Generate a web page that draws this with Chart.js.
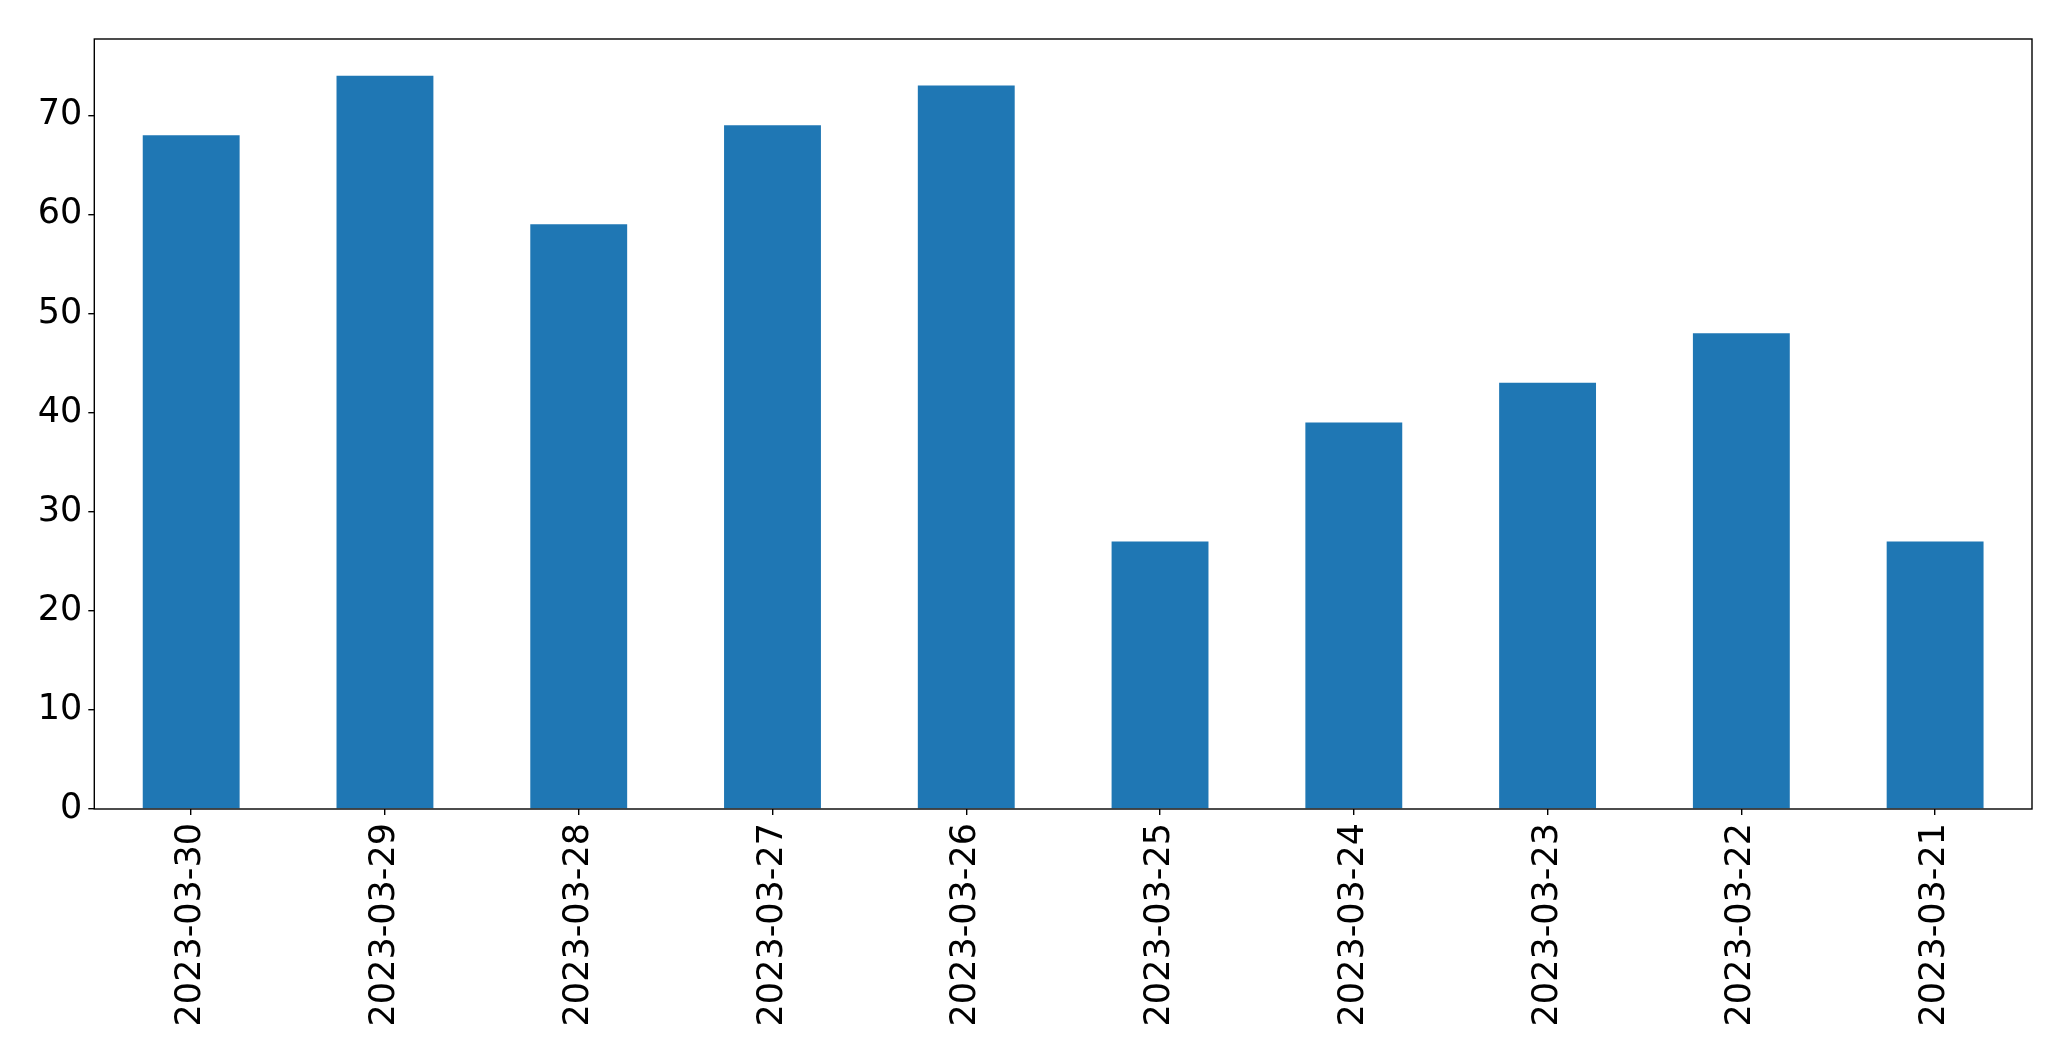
<!DOCTYPE html>
<html>
<head>
<meta charset="utf-8">
<script src="https://cdn.jsdelivr.net/npm/chart.js@4.4.0/dist/chart.umd.min.js"></script>
<style>
  html, body { margin: 0; padding: 0; background: #ffffff; }
  #wrap { width: 2071px; height: 1061px; }
</style>
</head>
<body>
<div id="wrap"><canvas id="barChart" width="2071" height="1061"></canvas></div>
<script>
const dates = ['2023-03-30', '2023-03-29', '2023-03-28', '2023-03-27', '2023-03-26',
               '2023-03-25', '2023-03-24', '2023-03-23', '2023-03-22', '2023-03-21'];
const counts = [68, 74, 59, 69, 73, 27, 39, 43, 48, 27];
const yTicks = [0, 10, 20, 30, 40, 50, 60, 70];
const yMax = 77.7;

// axes frame like matplotlib (all four spines)
const framePlugin = {
    id: 'frame',
    afterDraw(chart) {
        const a = chart.chartArea;
        const ctx = chart.ctx;
        ctx.save();
        ctx.strokeStyle = '#000000';
        ctx.lineWidth = 1.4;
        ctx.strokeRect(a.left, a.top, a.right - a.left, a.bottom - a.top);
        ctx.restore();
    }
};

const ctx = document.getElementById('barChart').getContext('2d');
new Chart(ctx, {
    type: 'bar',
    data: {
        labels: dates,
        datasets: [{
            data: counts,
            backgroundColor: '#1f77b4',
            borderWidth: 0,
            categoryPercentage: 1.0,
            barPercentage: 0.5
        }]
    },
    options: {
        responsive: false,
        animation: false,
        devicePixelRatio: 1,
        layout: { padding: { top: 39, right: 39, left: 0, bottom: 0 } },
        plugins: {
            legend: { display: false },
            tooltip: { enabled: false }
        },
        scales: {
            x: {
                offset: true,
                grid: {
                    drawOnChartArea: false,
                    drawTicks: true,
                    tickLength: 6,
                    color: '#000000',
                    lineWidth: 1.4,
                    offset: false
                },
                border: { display: false },
                ticks: {
                    color: '#000000',
                    font: { family: 'DejaVu Sans', size: 35 },
                    minRotation: 90,
                    maxRotation: 90,
                    autoSkip: false,
                    padding: 8
                },
                afterFit(scale) { scale.height = 252; }
            },
            y: {
                min: 0,
                max: yMax,
                grid: {
                    drawOnChartArea: false,
                    drawTicks: true,
                    tickLength: 6,
                    color: '#000000',
                    lineWidth: 1.4
                },
                border: { display: false },
                ticks: {
                    color: '#000000',
                    font: { family: 'DejaVu Sans', size: 35 },
                    padding: 6
                },
                afterBuildTicks(scale) {
                    scale.ticks = yTicks.map(v => ({ value: v }));
                },
                afterFit(scale) { scale.width = 94.3; }
            }
        }
    },
    plugins: [framePlugin]
});
</script>
</body>
</html>
